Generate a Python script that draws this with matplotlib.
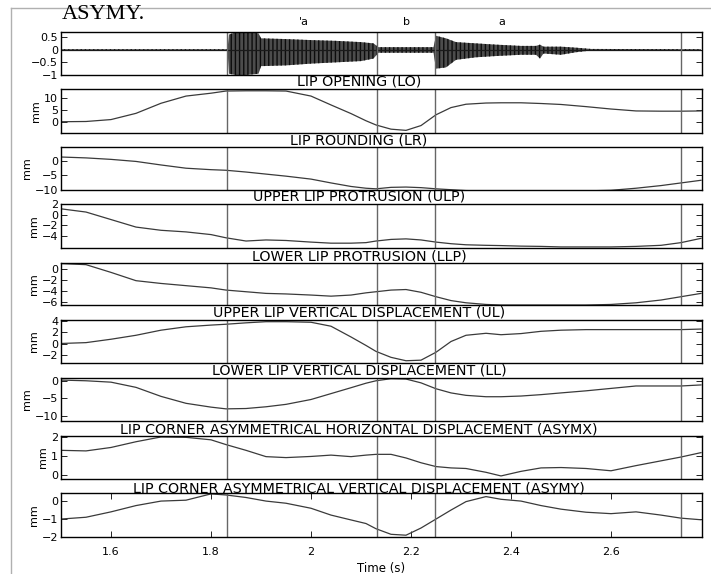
import matplotlib
matplotlib.use('Agg')
import matplotlib.pyplot as plt
from matplotlib.lines import Line2D
from matplotlib.transforms import blended_transform_factory

# time grid (s) for the articulatory traces
t = [1.50, 1.55, 1.60, 1.65, 1.70, 1.75, 1.80, 1.83, 1.87, 1.91, 1.95, 2.00,
     2.04, 2.08, 2.11, 2.13, 2.16, 2.19, 2.22, 2.25, 2.28, 2.31, 2.35, 2.38,
     2.42, 2.46, 2.50, 2.55, 2.60, 2.65, 2.70, 2.74, 2.78]

lo = [0.1, 0.2, 1.0, 3.6, 7.8, 10.8, 12.0, 12.9, 13.0, 13.0, 12.9, 10.8,
      7.1, 3.5, 0.5, -1.25, -3.0, -3.5, -1.5, 3.0, 6.0, 7.4, 7.9, 8.0,
      8.0, 7.7, 7.3, 6.4, 5.4, 4.6, 4.5, 4.5, 4.6]
lr = [1.2, 0.9, 0.4, -0.3, -1.5, -2.6, -3.1, -3.3, -3.9, -4.6, -5.3, -6.3,
      -7.6, -8.8, -9.4, -9.6, -9.1, -9.0, -9.2, -9.6, -9.9, -10.2, -10.3, -10.3,
      -10.3, -10.3, -10.3, -10.3, -10.1, -9.4, -8.5, -7.6, -6.7]
ulp = [1.1, 0.5, -0.9, -2.3, -2.9, -3.2, -3.7, -4.3, -4.9, -4.7, -4.8, -5.1,
       -5.3, -5.3, -5.2, -4.9, -4.6, -4.5, -4.7, -5.1, -5.4, -5.6, -5.7, -5.75,
       -5.85, -5.9, -6.0, -6.0, -6.0, -5.9, -5.7, -5.2, -4.4]
llp = [1.0, 0.8, -0.6, -2.1, -2.6, -3.0, -3.4, -3.8, -4.1, -4.4, -4.5, -4.7,
       -4.9, -4.7, -4.3, -4.1, -3.8, -3.7, -4.2, -5.0, -5.7, -6.1, -6.4, -6.5,
       -6.5, -6.5, -6.5, -6.5, -6.4, -6.1, -5.6, -5.0, -4.4]
ul = [0.05, 0.2, 0.8, 1.5, 2.4, 3.0, 3.3, 3.45, 3.7, 3.9, 3.9, 3.8,
      3.1, 1.2, -0.3, -1.35, -2.4, -3.0, -2.9, -1.5, 0.4, 1.5, 1.85, 1.6,
      1.8, 2.2, 2.4, 2.5, 2.5, 2.5, 2.5, 2.5, 2.6]
ll = [0.3, 0.1, -0.3, -1.8, -4.4, -6.4, -7.5, -8.0, -7.9, -7.4, -6.7, -5.3,
      -3.6, -1.9, -0.6, 0.1, 0.7, 0.6, -0.5, -2.2, -3.4, -4.1, -4.5, -4.5,
      -4.3, -3.9, -3.4, -2.8, -2.1, -1.4, -1.4, -1.4, -1.1]
asymx = [1.3, 1.27, 1.45, 1.75, 2.0, 1.98, 1.85, 1.6, 1.3, 0.97, 0.92, 0.98,
         1.05, 0.97, 1.05, 1.09, 1.09, 0.9, 0.65, 0.45, 0.38, 0.35, 0.15, -0.04,
         0.2, 0.38, 0.4, 0.35, 0.23, 0.5, 0.75, 0.95, 1.18]
asymy = [-1.0, -0.9, -0.6, -0.25, 0.0, 0.05, 0.4, 0.34, 0.2, 0.0, -0.12, -0.4,
         -0.78, -1.05, -1.25, -1.54, -1.85, -1.9, -1.5, -1.0, -0.5, -0.03, 0.25, 0.1,
         0.0, -0.25, -0.45, -0.62, -0.7, -0.6, -0.78, -0.95, -1.04]

# audio waveform envelope
wave_t = [1.50, 1.833, 1.836, 1.85, 1.87, 1.895, 1.90, 1.95, 2.00, 2.05, 2.10,
          2.125, 2.135, 2.245, 2.25, 2.27, 2.29, 2.33, 2.37, 2.42, 2.45, 2.458,
          2.465, 2.50, 2.53, 2.56, 2.78]
wave_hi = [0.02, 0.02, 0.6, 0.7, 0.7, 0.65, 0.45, 0.42, 0.38, 0.35, 0.3,
           0.25, 0.1, 0.1, 0.55, 0.45, 0.3, 0.25, 0.2, 0.15, 0.15, 0.2,
           0.12, 0.12, 0.08, 0.03, 0.02]
wave_lo = [-0.02, -0.02, -0.95, -1.0, -1.0, -0.95, -0.65, -0.62, -0.55, -0.5, -0.45,
           -0.35, -0.12, -0.12, -0.75, -0.7, -0.4, -0.3, -0.25, -0.2, -0.2, -0.35,
           -0.15, -0.2, -0.1, -0.03, -0.02]

# segment boundaries and labels
boundaries = [1.832, 2.131, 2.248, 2.739]
seg_labels = ["'a", "b", "a"]
seg_pos = [1.986, 2.19, 2.382]

titles = [None, 'LIP OPENING (LO)', 'LIP ROUNDING (LR)', 'UPPER LIP PROTRUSION (ULP)',
          'LOWER LIP PROTRUSION (LLP)', 'UPPER LIP VERTICAL DISPLACEMENT (UL)',
          'LOWER LIP VERTICAL DISPLACEMENT (LL)',
          'LIP CORNER ASYMMETRICAL HORIZONTAL DISPLACEMENT (ASYMX)',
          'LIP CORNER ASYMMETRICAL VERTICAL DISPLACEMENT (ASYMY)']
series = [None, lo, lr, ulp, llp, ul, ll, asymx, asymy]
ylims = [(-1, 0.7), (-4.6, 13.75), (-10, 4.6), (-6.2, 2.0), (-6.5, 1.1),
         (-3.4, 4.2), (-11.5, 0.9), (-0.2, 2.05), (-2, 0.45)]
yticks = [[-1, -0.5, 0, 0.5], [0, 5, 10], [-10, -5, 0], [-4, -2, 0, 2],
          [-6, -4, -2, 0], [-2, 0, 2, 4], [-10, -5, 0], [0, 1, 2], [-2, -1, 0]]
yticklabels = [['\u22121', '\u22120.5', '0', '0.5'], ['0', '5', '10'],
               ['\u221210', '\u22125', '0'], ['\u22124', '\u22122', '0', '2'],
               ['\u22126', '\u22124', '\u22122', '0'], ['\u22122', '0', '2', '4'],
               ['\u221210', '\u22125', '0'], ['0', '1', '2'], ['\u22122', '\u22121', '0']]
xticks = [1.6, 1.8, 2.0, 2.2, 2.4, 2.6]
xticklabels = ['1.6', '1.8', '2', '2.2', '2.4', '2.6']

# panel extents in pixels (top, bottom)
W, H = 711, 574
panel_px = [(32, 75), (89, 133), (147, 190), (204, 248), (263, 305),
            (320, 363), (378, 421), (436, 479), (493, 537)]
left_px, right_px = 61, 702

plt.rcParams['hatch.linewidth'] = 1.0
fig = plt.figure(figsize=(W / 100, H / 100), dpi=100)

# page frame
fig.add_artist(Line2D([11 / W, 11 / W], [0, 1 - 8 / H], color='#b0b0b0', lw=1))
fig.add_artist(Line2D([11 / W, 1], [1 - 8 / H, 1 - 8 / H], color='#b0b0b0', lw=1))
fig.text(62 / W, 1 - 19 / H, 'ASYMY.', family='Liberation Serif', fontsize=16,
         va='baseline', ha='left')

line_col = '#3a3a3a'
for i, (top, bot) in enumerate(panel_px):
    ax = fig.add_axes([left_px / W, 1 - bot / H, (right_px - left_px) / W, (bot - top) / H])
    if i == 0:
        # waveform drawn as its envelope, striped to suggest the pulses
        ax.fill_between(wave_t, wave_lo, wave_hi, facecolor='#4c4c4c',
                        edgecolor='#0c0c0c', hatch='||||', lw=0)
        ax.plot([wave_t[0], wave_t[-1]], [0, 0], color='#1a1a1a', lw=0.9)
        tr = blended_transform_factory(ax.transData, ax.transAxes)
        for lab, x in zip(seg_labels, seg_pos):
            ax.text(x, 1.23, lab, transform=tr, ha='center', va='center', fontsize=8)
    else:
        ax.plot(t, series[i], color=line_col, lw=0.9)
        ax.set_title(titles[i], fontsize=10.3, x=0.465, pad=0)
        ax.set_ylabel('mm', fontsize=8, labelpad=2)
    for b in boundaries:
        ax.axvline(b, color='#666666', lw=1)
    ax.set_xlim(1.5, 2.782)
    ax.set_ylim(*ylims[i])
    ax.set_yticks(yticks[i])
    ax.set_yticklabels(yticklabels[i], fontsize=8)
    ax.tick_params(axis='y', direction='in', length=4, width=0.6, right=True, pad=2)
    if i == len(panel_px) - 1:
        ax.set_xticks(xticks)
        ax.set_xticklabels(xticklabels, fontsize=8)
        ax.tick_params(axis='x', direction='in', length=4, width=0.6, top=True, pad=7)
        ax.set_xlabel('Time (s)', fontsize=8.5, labelpad=4)
    else:
        ax.set_xticks([])
    for s in ax.spines.values():
        s.set_linewidth(1)

plt.savefig('out.png', dpi=100)
